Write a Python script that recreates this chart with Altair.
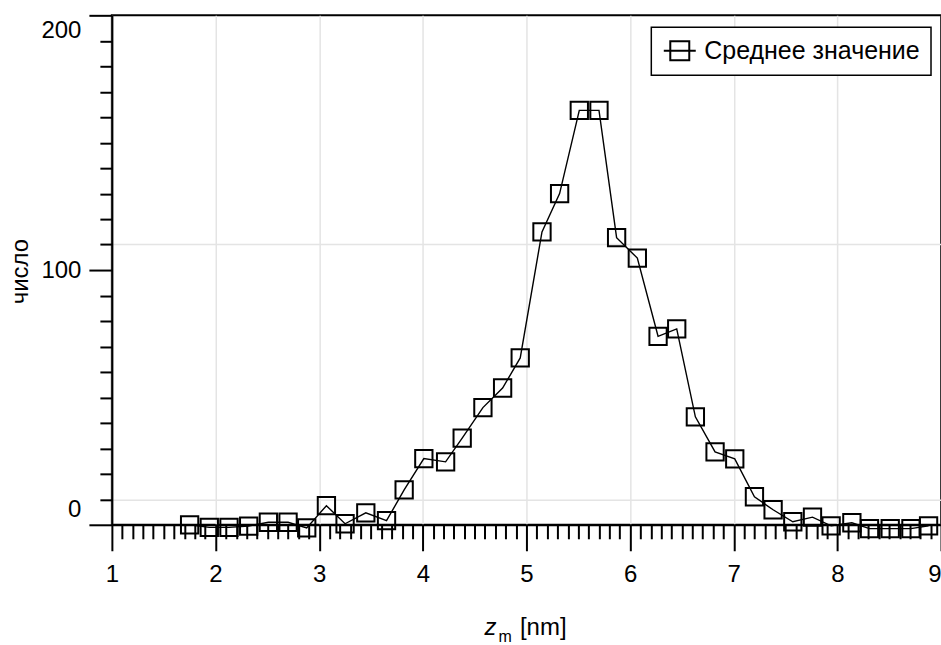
import altair as alt
import pandas as pd

# ---- data ----
z_values = [1.75, 1.94, 2.13, 2.32, 2.51, 2.70, 2.88, 3.07, 3.25, 3.45, 3.65, 3.82,
            4.01, 4.22, 4.38, 4.58, 4.77, 4.94, 5.15, 5.32, 5.51, 5.70, 5.87,
            6.07, 6.27, 6.45, 6.63, 6.82, 7.01, 7.20, 7.38, 7.57, 7.76, 7.94,
            8.14, 8.31, 8.51, 8.71, 8.88]
counts = [0, -1, -1, -0.5, 1, 1, -1.2, 7.5, 0.4, 4.7, 1.6, 13.7,
          26, 24.7, 34, 46, 53.7, 65.5, 115, 130, 162.7, 162.7, 112.7,
          104.7, 74, 76.9, 42.4, 28.6, 25.9, 11, 5.9, 1.2, 3, -0.4,
          0.8, -1.5, -1.5, -1.5, -0.4]
series_name = "Среднее значение"
y_title = "число"
x_title_var = "z"
x_title_sub = "m"
x_title_unit = "[nm]"

x_ticks = [round(1 + i / 10, 1) for i in range(81)]   # minor every 0.1, major at integers
y_ticks = [i * 10 for i in range(21)]                # minor every 10, major at 0/100/200
y_grid = [10, 110]

df = pd.DataFrame({"z": z_values, "n": counts, "s": [series_name] * len(z_values)})

FONT = "Liberation Sans"
is_int = "abs(datum.value - round(datum.value)) < 0.01"
is_major_y = "datum.value % 100 == 0"
grid_y_test = " || ".join(f"datum.value == {g}" for g in y_grid)

x_enc = alt.X(
    "z:Q",
    scale=alt.Scale(domain=[1, 9], nice=False, zero=False),
    axis=alt.Axis(
        values=x_ticks,
        tickSize={"condition": {"test": is_int, "value": 26}, "value": 14},
        labelExpr=f"{is_int} ? '' + round(datum.value) : ''",
        labelAlign={"condition": {"test": "datum.value >= 8.99", "value": "right"}, "value": "center"},
        labelPadding=12,
        labelOverlap=False,
        grid=True,
        gridOpacity={"condition": {"test": is_int, "value": 1}, "value": 0},
        title=x_title_unit,
        titleX=408,
        titleY=110,
        titleAlign="left",
        titleBaseline="alphabetic",
    ),
)
y_enc = alt.Y(
    "n:Q",
    scale=alt.Scale(domain=[0, 200], nice=False, zero=False),
    axis=alt.Axis(
        values=y_ticks,
        tickSize={"condition": {"test": is_major_y, "value": 23}, "value": 12},
        labelExpr=f"{is_major_y} ? '' + datum.value : ''",
        labelFlush=True,
        labelFlushOffset=-3,
        labelPadding=8,
        labelOverlap=False,
        grid=True,
        gridOpacity={"condition": {"test": grid_y_test, "value": 1}, "value": 0},
        title=y_title,
        titleX=-91,
        titleY=256,
        titleAlign="center",
        titleBaseline="middle",
    ),
)

line = alt.Chart(df).mark_line(color="black", strokeWidth=1.4).encode(x=x_enc, y=y_enc)

points = alt.Chart(df).mark_point(shape="square", filled=False, size=300, strokeWidth=2, opacity=1).encode(
    x=x_enc,
    y=y_enc,
    color=alt.Color(
        "s:N",
        scale=alt.Scale(range=["black"]),
        legend=alt.Legend(
            title=None,
            orient="none",
            legendX=540,
            legendY=12,
            padding=11,
            strokeColor="black",
            fillColor="white",
            symbolType="M-1.6,0H1.6M-0.95,-0.95H0.95V0.95H-0.95Z",
            symbolSize=400,
            symbolStrokeWidth=2,
            symbolStrokeColor="black",
            symbolFillColor="transparent",
            symbolOffset=5,
            labelOffset=12,
            labelFontSize=25,
            labelFont=FONT,
            labelColor="black",
            labelLimit=500,
        ),
    ),
)

title_z = alt.Chart(alt.Data(values=[{"t": x_title_var}])).mark_text(
    font=FONT, fontSize=24, fontStyle="italic", align="left", baseline="alphabetic", color="black"
).encode(text="t:N", x=alt.value(373), y=alt.value(620))

title_m = alt.Chart(alt.Data(values=[{"t": x_title_sub}])).mark_text(
    font=FONT, fontSize=16, align="left", baseline="alphabetic", color="black"
).encode(text="t:N", x=alt.value(387), y=alt.value(627))

chart = (
    alt.layer(line, points, title_z, title_m)
    .properties(
        width=830,
        height=510,
        padding={"left": 112, "top": 15, "right": 0, "bottom": 120},
        autosize=alt.AutoSizeParams(type="none"),
        background="white",
    )
    .configure_view(stroke="black", strokeWidth=2)
    .configure_legend(strokeWidth=1.5)
    .configure_axis(
        labelFont=FONT,
        titleFont=FONT,
        labelFontSize=24,
        titleFontSize=24,
        titleFontWeight="normal",
        labelColor="black",
        titleColor="black",
        domainColor="black",
        domainWidth=2,
        tickColor="black",
        tickWidth=2,
        gridColor="#e4e4e4",
        gridWidth=1.5,
    )
)

chart.save("out.html", embed_options={"renderer": "svg", "actions": False})
